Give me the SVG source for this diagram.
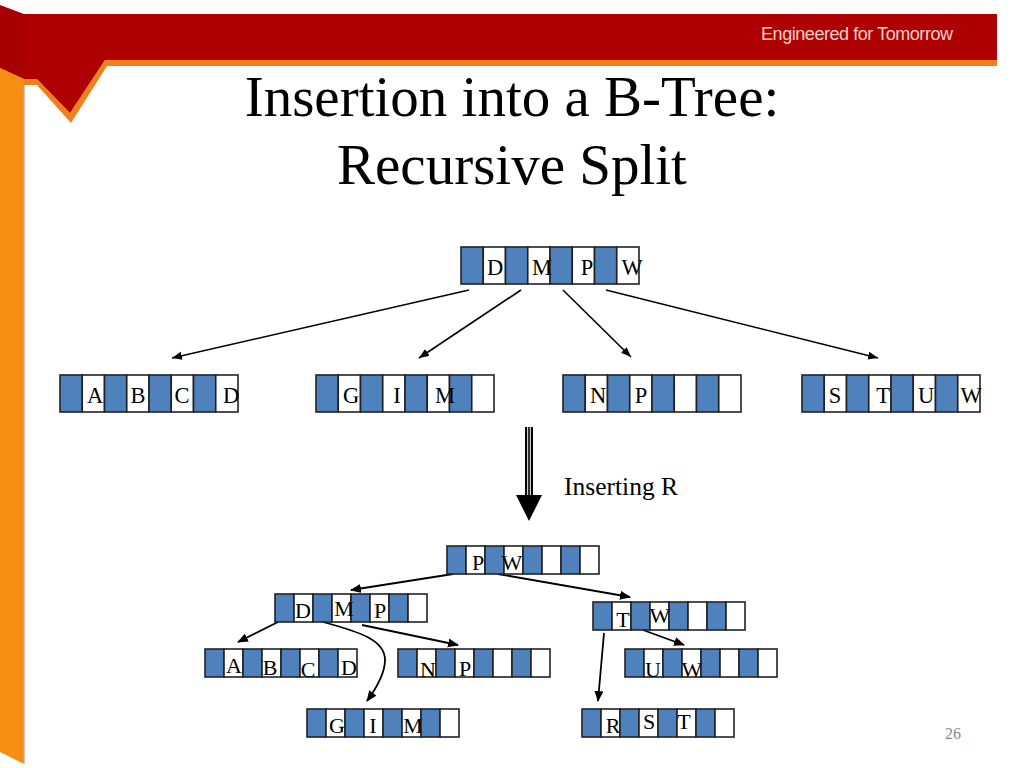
<svg xmlns="http://www.w3.org/2000/svg" xmlns:xlink="http://www.w3.org/1999/xlink" width="1024" height="768" viewBox="0 0 1024 768">
<style>
text{font-family:"Liberation Serif","Times New Roman",serif;fill:#000}
.title{font-size:57px;text-anchor:middle}
.k{font-size:22.5px;text-anchor:middle}
.s{font-size:22px;text-anchor:middle}
.note{font-size:25.5px}
.c{fill:#fff;stroke:#222;stroke-width:1.6}
.b{fill:#4f81bd;stroke:#222;stroke-width:1.6}
.ar{fill:none;stroke:#000;stroke-width:1.6;marker-end:url(#ah)}
.ar2{fill:none;stroke:#000;stroke-width:1.8;marker-end:url(#ah2)}
</style>
<defs>
<marker id="ah" markerUnits="userSpaceOnUse" markerWidth="12" markerHeight="9" refX="10" refY="4" orient="auto"><path d="M0 0L10 4L0 8Z" fill="#000"/></marker>
<marker id="ah2" markerUnits="userSpaceOnUse" markerWidth="12" markerHeight="10" refX="10" refY="4.5" orient="auto"><path d="M0 0L11 4.5L0 9Z" fill="#000"/></marker>
<g id="big">
<rect class="b" x="0" y="0" width="22.25" height="37"/><rect class="c" x="22.25" y="0" width="22.25" height="37"/>
<rect class="b" x="44.5" y="0" width="22.25" height="37"/><rect class="c" x="66.75" y="0" width="22.25" height="37"/>
<rect class="b" x="89" y="0" width="22.25" height="37"/><rect class="c" x="111.25" y="0" width="22.25" height="37"/>
<rect class="b" x="133.5" y="0" width="22.25" height="37"/><rect class="c" x="155.75" y="0" width="22.25" height="37"/>
</g>
<g id="small">
<rect class="b" x="0" y="0" width="19" height="28"/><rect class="c" x="19" y="0" width="19" height="28"/>
<rect class="b" x="38" y="0" width="19" height="28"/><rect class="c" x="57" y="0" width="19" height="28"/>
<rect class="b" x="76" y="0" width="19" height="28"/><rect class="c" x="95" y="0" width="19" height="28"/>
<rect class="b" x="114" y="0" width="19" height="28"/><rect class="c" x="133" y="0" width="19" height="28"/>
</g>
</defs>
<rect width="1024" height="768" fill="#fff"/>
<g id="banner">
<path d="M0 68L24 79L24 764L0 752Z" fill="#f78e14"/>
<path d="M24.5 85V764" stroke="#cfcac4" stroke-width="1.5" fill="none"/>
<path d="M24 79H37L70 113L105 60H997V66H107L71 123L37 85H24Z" fill="#f08019"/>
<path d="M0 5L24 14V79L0 68Z" fill="#a80000"/>
<path d="M24 14H997V60H105L70 113L37 79H24Z" fill="#ae0000"/>
<text x="761" y="40" textLength="192" lengthAdjust="spacing" style="font-family:'Liberation Sans',Arial,sans-serif;font-size:18px;fill:#f7cfc8">Engineered for Tomorrow</text>
</g>
<g id="title">
<text class="title" x="512" y="116">Insertion into a B-Tree:</text>
<text class="title" x="512" y="184">Recursive Split</text>
</g>
<g id="connectors">
<path class="ar" d="M469 290L172 358"/>
<path class="ar" d="M521 290L419 358"/>
<path class="ar" d="M563 290L631 357"/>
<path class="ar" d="M606 290L878 358"/>
<path class="ar2" d="M453 574L351 590"/>
<path class="ar2" d="M498 574L630 597"/>
<path class="ar2" d="M278 622L238 642"/>
<path class="ar2" d="M362 625L458 645"/>
<path class="ar2" d="M323 622C360 632 385 640 385 660C385 675 375 690 367 701"/>
<path class="ar2" d="M604 633L598 701"/>
<path class="ar2" d="M643 630L684 645"/>
</g>
<g id="n-root"><use xlink:href="#big" href="#big" x="461" y="247"/><text class="k" x="495" y="275">D</text><text class="k" x="542" y="275">M</text><text class="k" x="587" y="275">P</text><text class="k" x="632" y="275">W</text></g>
<g id="n-abcd"><use xlink:href="#big" href="#big" x="60" y="375"/><text class="k" x="95" y="403">A</text><text class="k" x="138" y="403">B</text><text class="k" x="182" y="403">C</text><text class="k" x="231" y="403">D</text></g>
<g id="n-gim"><use xlink:href="#big" href="#big" x="316" y="375"/><text class="k" x="351" y="403">G</text><text class="k" x="397" y="403">I</text><text class="k" x="445" y="403">M</text></g>
<g id="n-np"><use xlink:href="#big" href="#big" x="563" y="375"/><text class="k" x="598" y="403">N</text><text class="k" x="641" y="403">P</text></g>
<g id="n-stuw"><use xlink:href="#big" href="#big" x="802" y="375"/><text class="k" x="835" y="403">S</text><text class="k" x="883" y="403">T</text><text class="k" x="926" y="403">U</text><text class="k" x="971" y="403">W</text></g>
<g id="insert-arrow">
<rect x="525" y="427" width="8" height="70" fill="#000"/>
<path d="M527.7 427V497M530.3 427V497" stroke="#fff" stroke-width="1" fill="none"/>
<path d="M516 495H542L529 521Z" fill="#000"/>
<text class="note" x="564" y="495">Inserting R</text>
</g>
<g id="m-pw"><use xlink:href="#small" href="#small" x="447" y="546"/><text class="s" x="478" y="570">P</text><text class="s" x="512" y="570">W</text></g>
<g id="m-dmp"><use xlink:href="#small" href="#small" x="275" y="594"/><text class="s" x="303" y="618">D</text><text class="s" x="344" y="616">M</text><text class="s" x="380" y="618">P</text></g>
<g id="m-tw"><use xlink:href="#small" href="#small" x="593" y="602"/><text class="s" x="623" y="627">T</text><text class="s" x="660" y="623">W</text></g>
<g id="m-abcd"><use xlink:href="#small" href="#small" x="205" y="649"/><text class="s" x="234" y="673">A</text><text class="s" x="270" y="675">B</text><text class="s" x="308" y="677">C</text><text class="s" x="349" y="675">D</text></g>
<g id="m-np"><use xlink:href="#small" href="#small" x="398" y="649"/><text class="s" x="428" y="677">N</text><text class="s" x="465" y="676">P</text></g>
<g id="m-uw"><use xlink:href="#small" href="#small" x="625" y="649"/><text class="s" x="653" y="677">U</text><text class="s" x="692" y="677">W</text></g>
<g id="m-gim"><use xlink:href="#small" href="#small" x="307" y="709"/><text class="s" x="337" y="733">G</text><text class="s" x="373" y="733">I</text><text class="s" x="413" y="733">M</text></g>
<g id="m-rst"><use xlink:href="#small" href="#small" x="582" y="709"/><text class="s" x="613" y="733">R</text><text class="s" x="649" y="729">S</text><text class="s" x="684" y="729">T</text></g>
<text x="953" y="739" text-anchor="middle" style="font-size:16px;fill:#8a8a8a">26</text>
</svg>
